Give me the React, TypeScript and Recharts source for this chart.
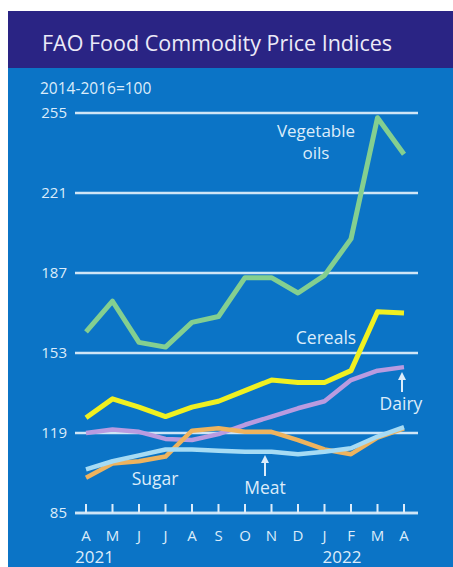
import { LineChart, Line, XAxis, YAxis, CartesianGrid } from 'recharts'

const months = ['A', 'M', 'J', 'J', 'A', 'S', 'O', 'N', 'D', 'J', 'F', 'M', 'A']
const vegOils = [162, 175, 157.5, 155.5, 166, 168.5, 185, 185, 178.5, 186, 201.5, 253, 237.5]
const cereals = [125.5, 133.5, 130, 126, 130, 132.5, 137, 141.5, 140.5, 140.5, 145.5, 170.5, 170]
const dairy = [119, 120.5, 119.5, 116.5, 116, 118.5, 122.5, 126, 129.5, 132.5, 141.5, 145.5, 147]
const sugar = [100, 106, 107, 109, 120, 121, 119.5, 119.5, 116, 112, 110, 117, 121]
const meat = [103.5, 107, 109.5, 112, 112, 111.5, 111, 111, 110, 111, 112.5, 117.5, 121.5]
const yTicks = [85, 119, 153, 187, 221, 255]
const years: Record<number, string> = { 0: '2021', 9: '2022' }

const data = months.map((m, i) => ({
  key: i,
  month: m,
  vegOils: vegOils[i],
  cereals: cereals[i],
  dairy: dairy[i],
  sugar: sugar[i],
  meat: meat[i],
}))

const FONT = '"Open Sans", sans-serif'
const TEXT = '#dcecfa'
const BLUE = '#0b74c6'
const NAVY = '#2a2484'

function MonthTick(props: any) {
  const { x, y, payload, index } = props
  const year = years[index]
  return (
    <g>
      <line x1={x} x2={x} y1={y - 9} y2={y} stroke={TEXT} strokeWidth={2} />
      <text x={x} y={y + 28} textAnchor="middle" fill={TEXT} fontSize={15} fontFamily={FONT}>
        {months[payload.value]}
      </text>
      {year && (
        <text x={x + (index === 0 ? -11 : -2)} y={y + 50} textAnchor="start" fill={TEXT} fontSize={17} fontFamily={FONT}>
          {year}
        </text>
      )}
    </g>
  )
}

function Arrow({ x, y1, y2 }: { x: number; y1: number; y2: number }) {
  return (
    <g>
      <line x1={x} x2={x} y1={y1} y2={y2 + 4} stroke={TEXT} strokeWidth={2} />
      <path d={`M${x - 4},${y2 + 8} L${x},${y2} L${x + 4},${y2 + 8} Z`} fill={TEXT} />
    </g>
  )
}

export default function App() {
  const label = { fill: TEXT, fontFamily: FONT, textAnchor: 'middle' as const, fontSize: 17.5 }
  return (
    <>
      <style>{'html, body { overflow: hidden; }'}</style>
      <div style={{ position: 'fixed', left: 8, top: 11, width: 460, height: 570, background: BLUE, overflow: 'hidden' }}>
        <div style={{ position: 'absolute', left: 0, top: 0, right: 0, height: 57, background: NAVY }} />
        <div style={{ position: 'absolute', left: 34, top: 18, color: '#eceaf8', fontFamily: FONT, fontSize: 21.5, lineHeight: '28px', whiteSpace: 'nowrap' }}>
          FAO Food Commodity Price Indices
        </div>
        <div style={{ position: 'absolute', left: 32, top: 67, color: TEXT, fontFamily: FONT, fontSize: 15.5, lineHeight: '20px', whiteSpace: 'nowrap' }}>
          2014-2016=100
        </div>
        <div style={{ position: 'absolute', left: 0, top: 0 }}>
          <LineChart width={445} height={556} data={data} margin={{ top: 102, right: 35, bottom: 24, left: 0 }}>
            <CartesianGrid vertical={false} stroke="#cfe5f6" strokeWidth={2.5} />
            <YAxis
              domain={[85, 255]}
              ticks={yTicks}
              width={67}
              axisLine={false}
              tickLine={false}
              tickSize={0}
              tickMargin={8}
              tick={{ fill: TEXT, fontSize: 15, fontFamily: FONT }}
            />
            <XAxis
              dataKey="key"
              height={30}
              padding={{ left: 11, right: 14 }}
              axisLine={{ stroke: '#cfe5f6', strokeWidth: 2.5 }}
              tickLine={false}
              tickSize={0}
              tickMargin={0}
              interval={0}
              tick={<MonthTick />}
            />
            <Line dataKey="vegOils" stroke="#84cf90" strokeWidth={5} dot={false} strokeLinejoin="round" isAnimationActive={false} />
            <Line dataKey="cereals" stroke="#f0f021" strokeWidth={5} dot={false} strokeLinejoin="round" isAnimationActive={false} />
            <Line dataKey="dairy" stroke="#b99be0" strokeWidth={4.5} dot={false} strokeLinejoin="round" isAnimationActive={false} />
            <Line dataKey="sugar" stroke="#eeb35e" strokeWidth={4.5} dot={false} strokeLinejoin="round" isAnimationActive={false} />
            <Line dataKey="meat" stroke="#a6dbf4" strokeWidth={4.5} dot={false} strokeLinejoin="round" isAnimationActive={false} />
          </LineChart>
        </div>
        <svg width={445} height={556} style={{ position: 'absolute', left: 0, top: 0, pointerEvents: 'none' }}>
          <text x={308} y={126} {...label} fontSize={17}>Vegetable</text>
          <text x={308} y={148} {...label} fontSize={17}>oils</text>
          <text x={318} y={333} {...label}>Cereals</text>
          <text x={393} y={399} {...label}>Dairy</text>
          <Arrow x={394} y1={381} y2={361} />
          <text x={147} y={474} {...label}>Sugar</text>
          <text x={257} y={483} {...label}>Meat</text>
          <Arrow x={257} y1={465} y2={444} />
        </svg>
      </div>
    </>
  )
}
